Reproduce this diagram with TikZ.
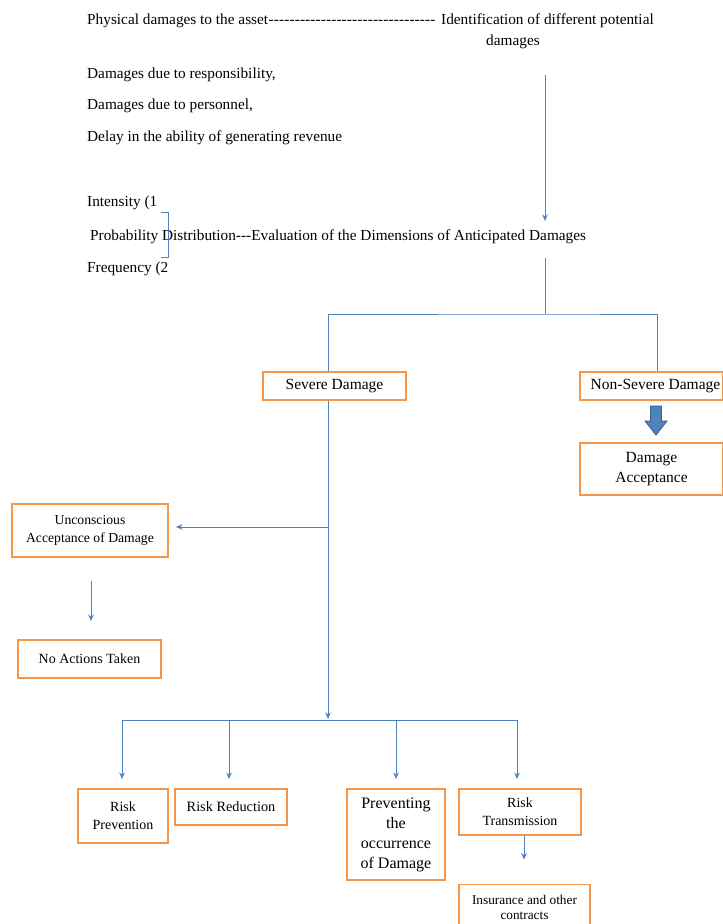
\documentclass[tikz,border=0pt]{standalone}
\usepackage{fontspec}
\setmainfont{Liberation Serif}
\usetikzlibrary{arrows.meta}
\definecolor{boxorange}{HTML}{F79646}
\definecolor{lineblue}{HTML}{4F81BD}
\definecolor{arrowdark}{HTML}{385D8A}
\newcommand{\fs}[2]{\fontsize{#1}{#2}\selectfont}
\begin{document}
\begin{tikzpicture}[x=1pt,y=-1pt,
  txt/.style={anchor=base west, inner sep=0pt, font=\fs{15.3}{18}},
  box/.style={draw=boxorange, line width=1.9pt, fill=white, align=center, inner sep=2pt},
  conn/.style={draw=lineblue, line width=1pt},
  arr/.style={conn, -{Stealth[length=6.5pt,width=5.5pt]}}]
\useasboundingbox (0,0) rectangle (723,924);
\fill[white] (0,0) rectangle (723,924);

% ---- upper texts
\node[txt] (l1a) at (87,24) {Physical damages to the asset};
\node[txt] (l1d) at (l1a.base east) {\hbox to 167pt{\xleaders\hbox{-}\hfill}};
\node[txt] (ident) at (441,24) {Identification of different potential};
\node[anchor=base, inner sep=0pt, font=\fs{15.3}{18}] (ident2) at (513,45) {damages};
\node[txt] (dresp) at (87,78) {Damages due to responsibility,};
\node[txt] (dpers) at (87,109) {Damages due to personnel,};
\node[txt] (delay) at (87,141) {Delay in the ability of generating revenue};
\node[txt] (inten) at (87,206) {Intensity (1};
\node[txt] (prob) at (90,240) {Probability Distribution-{}-{}-Evaluation of the Dimensions of Anticipated Damages};
\node[txt] (freq) at (87,272) {Frequency (2};
\draw[conn] (161,212) -- (168,212) -- (168,257) -- (161,257);

% ---- boxes
\node[box, minimum width=143pt, minimum height=28pt, font=\fs{15.5}{18}] (sev) at (334.5,386) {Severe Damage};
\node[box, minimum width=143pt, minimum height=28pt, font=\fs{15.5}{18}] (nonsev) at (651.5,386) {\hspace*{8pt}Non-Severe Damage};
\node[box, minimum width=143pt, minimum height=52pt, font=\fs{15.5}{20}] (accept) at (651.5,469) {Damage\\Acceptance};
\node[box, minimum width=156pt, minimum height=53pt, font=\fs{13.7}{18}] (uncon) at (90,530.5) {Unconscious\\Acceptance of Damage};
\node[box, minimum width=143pt, minimum height=38pt, font=\fs{14}{18}] (noact) at (89.5,659) {No Actions Taken};
\node[box, minimum width=90pt, minimum height=54pt, font=\fs{14}{18}] (prev) at (123,816) {Risk\\Prevention};
\node[box, minimum width=112pt, minimum height=36pt, font=\fs{14.3}{18}] (red) at (231,807) {Risk Reduction};
\node[box, minimum width=98pt, minimum height=91pt, font=\fs{16}{20}] (occ) at (396,834.5) {Preventing\\the\\occurrence\\of Damage};
\node[box, minimum width=122pt, minimum height=46pt, font=\fs{14}{18}] (trans) at (520,812) {Risk\\Transmission};
\node[box, minimum width=131pt, minimum height=45pt, font=\fs{13.3}{15}] (ins) at (524.5,907) {Insurance and other\\contracts};

% ---- connectors
\coordinate (t1) at (545,75);
\coordinate (t2) at (545,221);
\coordinate (t3) at (545,258);
\coordinate (jt) at (545,314);
\coordinate (ju) at (328,527);
\coordinate (hb) at (328,720);
\draw[arr] (t1) -- (t2);
\draw[conn] (t3) -- (jt);
\draw[conn] ([xshift=-6.5pt]sev.north) |- (jt) -| ([xshift=5.5pt]nonsev.north);
\draw[arr, shorten >=1pt] ([xshift=-6.5pt]sev.south) -- (hb);
\draw[arr, shorten >=7pt] (ju) -- (uncon.east |- ju);
\draw[arr, shorten <=23pt, shorten >=18pt] ([xshift=1pt]uncon.south) -- ([xshift=1.5pt]noact.north);
\draw[arr, shorten >=9pt] (hb) -| ([xshift=-1pt]prev.north);
\draw[arr, shorten >=9pt] (hb) -| ([xshift=-2pt]red.north);
\draw[arr, shorten >=9pt] (hb) -| (occ.north);
\draw[arr, shorten >=9pt] (hb) -| ([xshift=-3pt]trans.north);
\draw[arr, shorten >=24pt] ([xshift=4pt]trans.south) -- ([xshift=-0.5pt]ins.north);

% ---- block arrow between Non-Severe Damage and Damage Acceptance
\filldraw[fill=lineblue, draw=arrowdark, line width=0.8pt]
  (650.5,406) -- (661.5,406) -- (661.5,421) -- (667,421) -- (656,435)
  -- (645,421) -- (650.5,421) -- cycle;
\end{tikzpicture}
\end{document}
